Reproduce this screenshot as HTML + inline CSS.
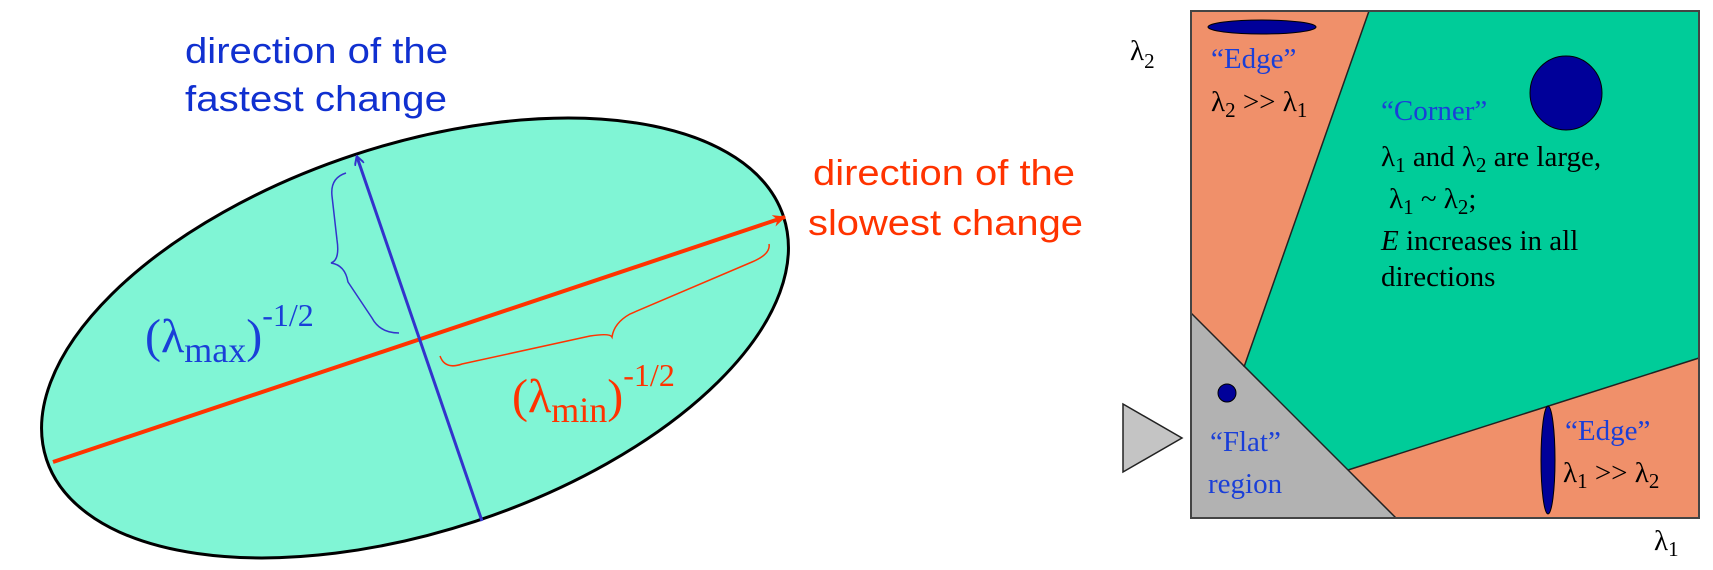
<!DOCTYPE html>
<html><head><meta charset="utf-8"><style>
html,body{margin:0;padding:0;background:#fff;width:1713px;height:570px;overflow:hidden}
svg{display:block}
.ss{font-family:"Liberation Sans",sans-serif}
.sf{font-family:"Liberation Serif",serif}
</style></head><body>
<svg width="1713" height="570" viewBox="0 0 1713 570">
<defs>
<marker id="ab" markerWidth="10" markerHeight="10" refX="8" refY="5" orient="auto" markerUnits="userSpaceOnUse"><path d="M0,0 L9,5 L0,10" fill="none" stroke="#3333cc" stroke-width="2"/></marker>
<marker id="ar" markerWidth="14" markerHeight="14" refX="12" refY="7" orient="auto" markerUnits="userSpaceOnUse"><path d="M0,1 L13,7 L0,13 L4,7 Z" fill="#ff3300"/></marker>
</defs>
<g>
<ellipse cx="415" cy="338" rx="388" ry="193" transform="rotate(-18.25 415 338)" fill="#80f5d5" stroke="#000" stroke-width="3"/>
<line x1="53" y1="462" x2="785" y2="217" stroke="#ff3300" stroke-width="4" marker-end="url(#ar)"/>
<line x1="482" y1="521" x2="357" y2="157" stroke="#3333cc" stroke-width="3" marker-end="url(#ab)"/>
<path d="M346,173 Q330,178 332,196 L337,240 Q340,260 331,263 Q345,265 348,282 L372,318 Q380,333 399,333" fill="none" stroke="#3333cc" stroke-width="1.5"/>
<path d="M440,356 Q445,370 462,364 L590,336 Q610,333 612,337 Q614,323 630,314 L752,262 Q771,254 769,244" fill="none" stroke="#ff3300" stroke-width="1.5"/>
<text class="ss" fill="#1030d0" font-size="36"><tspan x="185" y="63" textLength="263" lengthAdjust="spacingAndGlyphs">direction of the</tspan><tspan x="185" y="111" textLength="262" lengthAdjust="spacingAndGlyphs">fastest change</tspan></text>
<text class="ss" fill="#ff3300" font-size="36"><tspan x="813" y="185" textLength="262" lengthAdjust="spacingAndGlyphs">direction of the</tspan><tspan x="808" y="235" textLength="275" lengthAdjust="spacingAndGlyphs">slowest change</tspan></text>
<text class="sf" fill="#1a3fd8" font-size="48" x="145" y="352">(λ<tspan font-size="36" dy="10">max</tspan><tspan dy="-10">)</tspan><tspan font-size="32" dy="-26">-1/2</tspan></text>
<text class="sf" fill="#ff3300" font-size="48" x="512" y="412">(λ<tspan font-size="36" dy="10">min</tspan><tspan dy="-10">)</tspan><tspan font-size="32" dy="-26">-1/2</tspan></text>
</g>
<g>
<polygon points="1191,11 1369,11 1244,367 1191,313" fill="#f0906a"/>
<polygon points="1369,11 1699,11 1699,358 1348,470 1244,367" fill="#00cc99"/>
<polygon points="1348,470 1699,358 1699,518 1396,518" fill="#f0906a"/>
<polygon points="1191,313 1396,518 1191,518" fill="#b2b2b2"/>
<g fill="none" stroke="#222" stroke-width="1.5">
<line x1="1369" y1="11" x2="1244" y2="367"/>
<line x1="1191" y1="313" x2="1396" y2="518"/>
<line x1="1348" y1="470" x2="1699" y2="358"/>
</g>
<rect x="1191" y="11" width="508" height="507" fill="none" stroke="#444" stroke-width="2"/>
<polygon points="1123,404 1182,438 1123,472" fill="#c4c4c4" stroke="#222" stroke-width="1.5"/>
<ellipse cx="1262" cy="27" rx="54" ry="7" fill="#000099" stroke="#000" stroke-width="1"/>
<ellipse cx="1566" cy="93" rx="36" ry="37" fill="#000099" stroke="#000" stroke-width="1"/>
<ellipse cx="1227" cy="393" rx="9" ry="9" fill="#000099" stroke="#000" stroke-width="1"/>
<ellipse cx="1548" cy="460" rx="7" ry="54" fill="#000099" stroke="#000" stroke-width="1"/>
<g class="sf" font-size="29">
<text x="1211" y="68" fill="#1a3fd8">“Edge”</text>
<text x="1211" y="111" fill="#000">λ<tspan font-size="21" dy="6">2</tspan><tspan dy="-6"> &gt;&gt; λ</tspan><tspan font-size="21" dy="6">1</tspan></text>
<text x="1381" y="120" fill="#1a3fd8">“Corner”</text>
<text x="1381" y="166" fill="#000">λ<tspan font-size="21" dy="6">1</tspan><tspan dy="-6"> and λ</tspan><tspan font-size="21" dy="6">2</tspan><tspan dy="-6"> are large,</tspan></text>
<text x="1389" y="208" fill="#000">λ<tspan font-size="21" dy="6">1</tspan><tspan dy="-6"> ~ λ</tspan><tspan font-size="21" dy="6">2</tspan><tspan dy="-6">;</tspan></text>
<text x="1381" y="250" fill="#000"><tspan font-style="italic">E</tspan> increases in all</text>
<text x="1381" y="286" fill="#000">directions</text>
<text x="1210" y="451" fill="#1a3fd8">“Flat”</text>
<text x="1208" y="493" fill="#1a3fd8">region</text>
<text x="1565" y="440" fill="#1a3fd8">“Edge”</text>
<text x="1563" y="482" fill="#000">λ<tspan font-size="21" dy="6">1</tspan><tspan dy="-6"> &gt;&gt; λ</tspan><tspan font-size="21" dy="6">2</tspan></text>
<text x="1130" y="60" fill="#000">λ<tspan font-size="21" dy="8">2</tspan></text>
<text x="1654" y="550" fill="#000">λ<tspan font-size="21" dy="6">1</tspan></text>
</g>
</g>
</svg>
</body></html>
